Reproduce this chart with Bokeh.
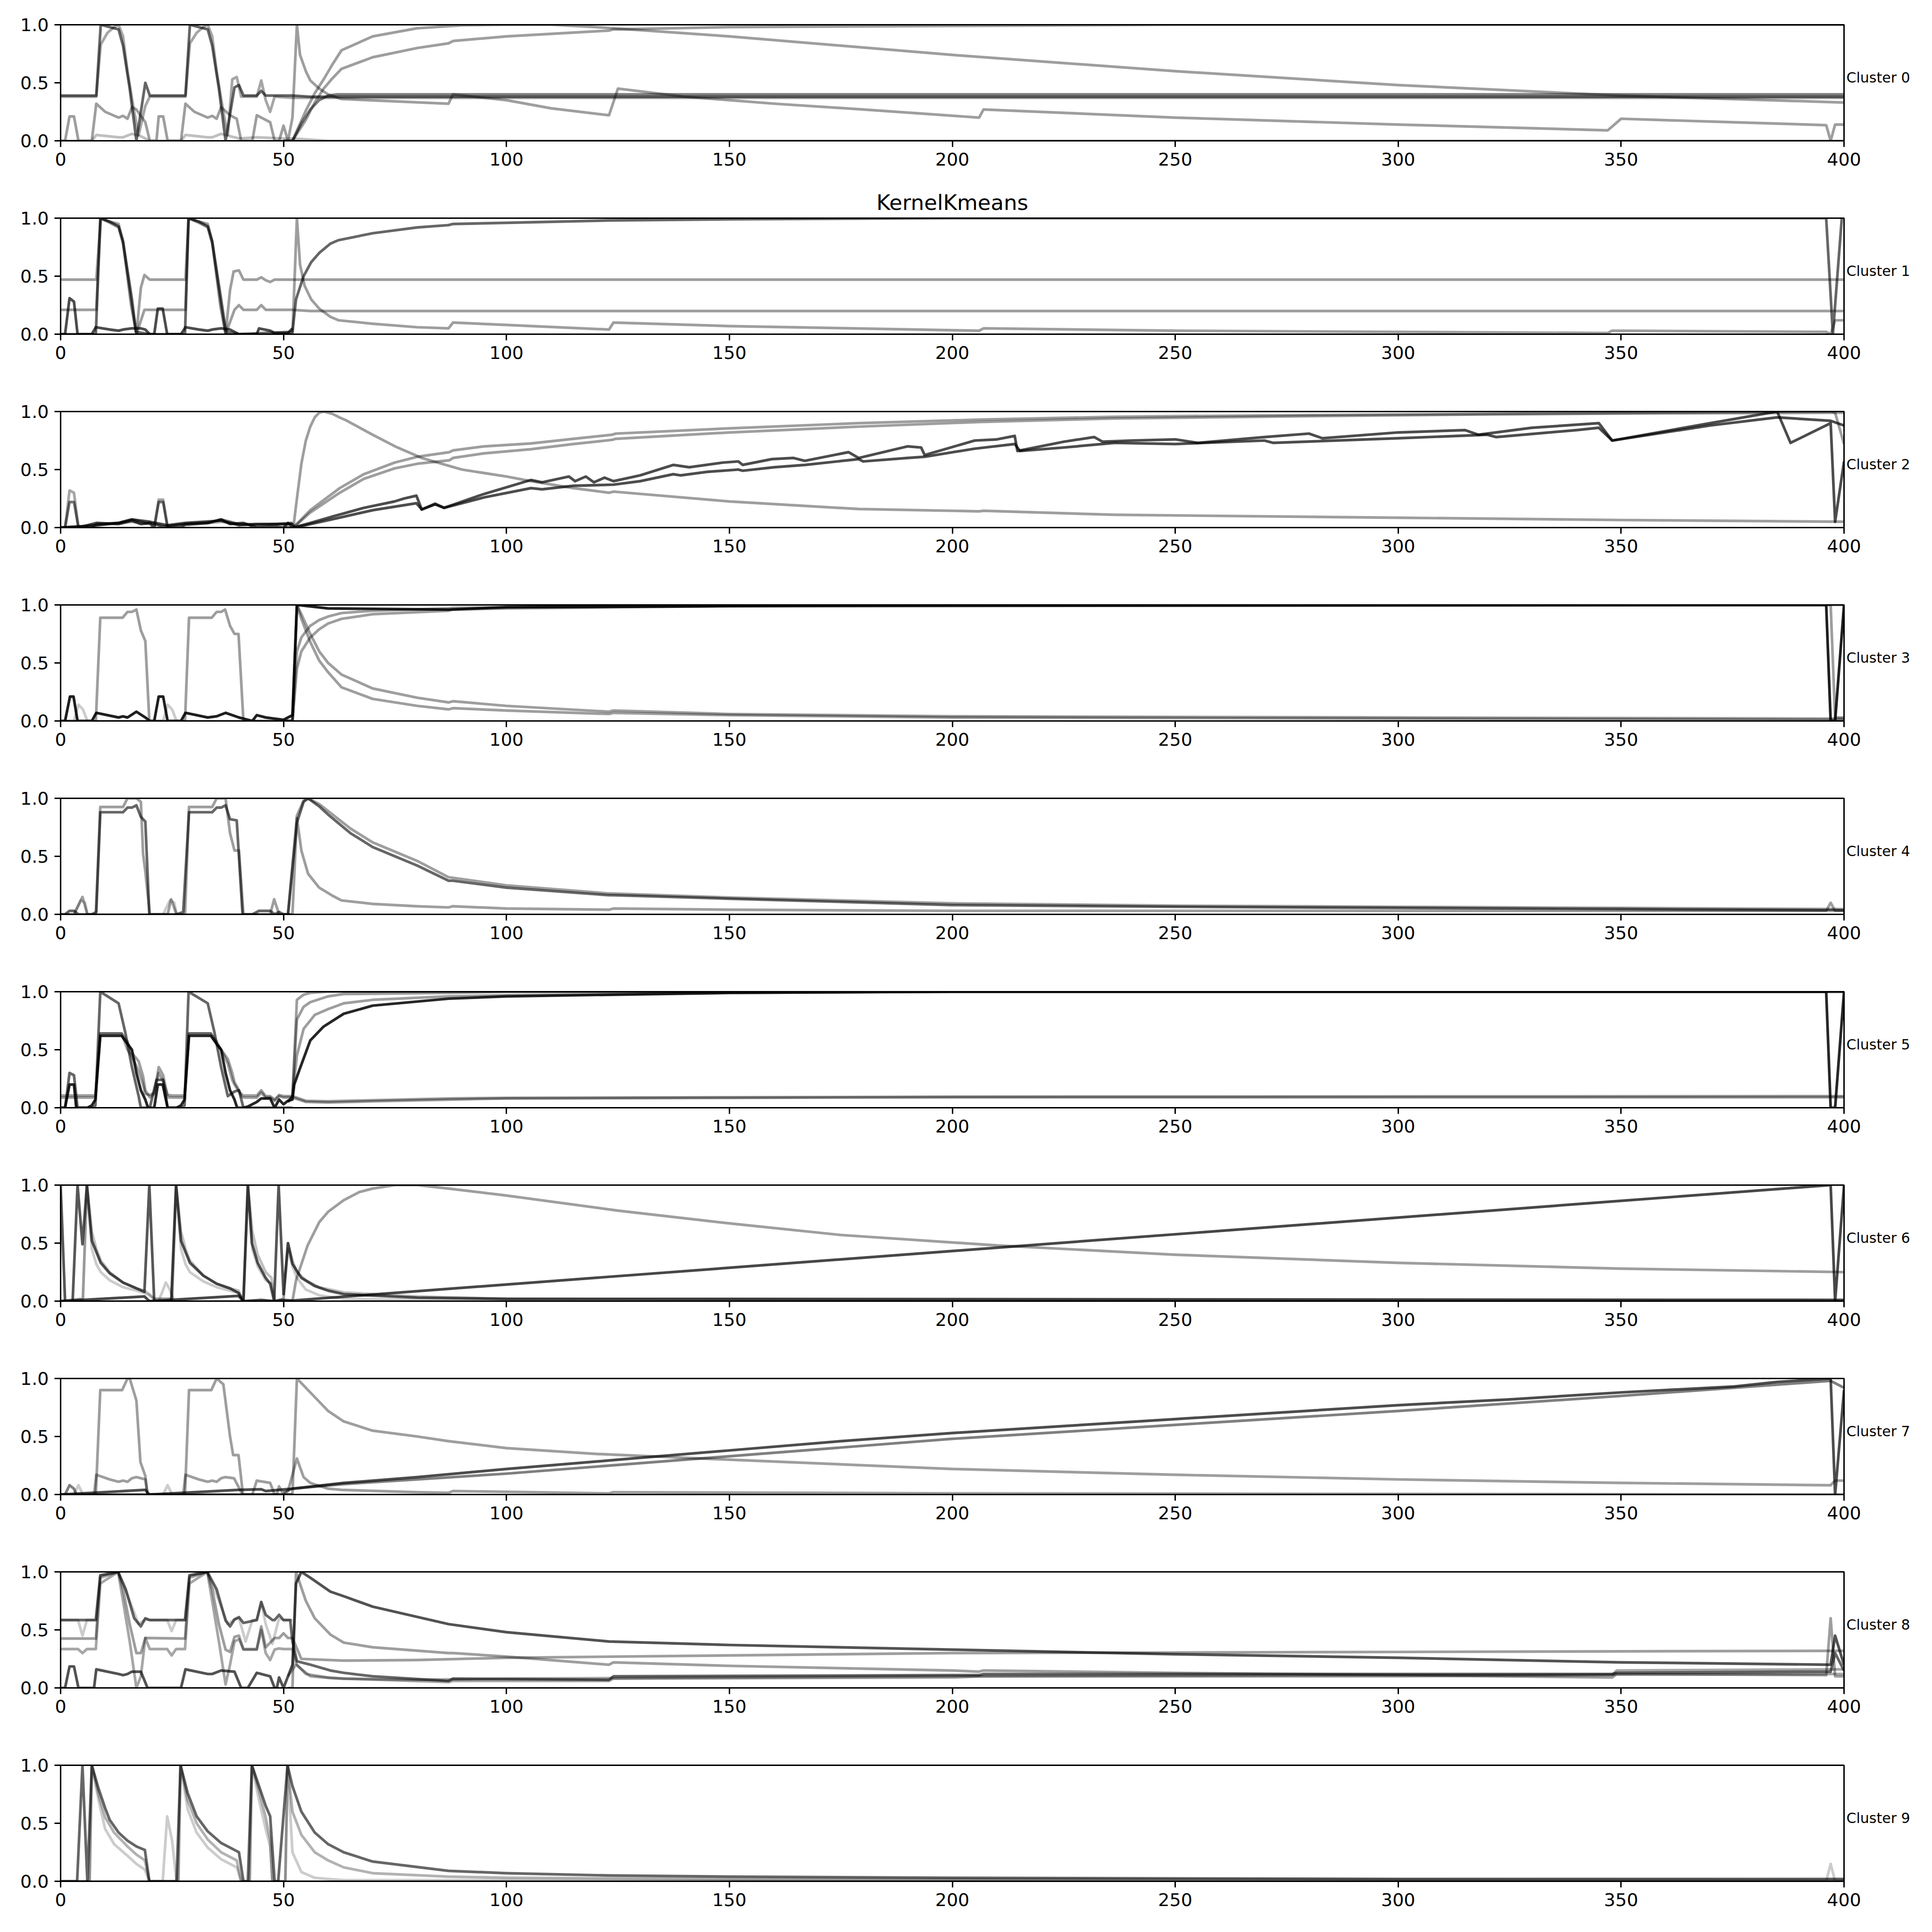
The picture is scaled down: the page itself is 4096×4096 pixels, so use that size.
from bokeh.plotting import figure
from bokeh.models import Range1d, FixedTicker, PrintfTickFormatter, LinearAxis
from bokeh.layouts import column
from bokeh.embed import file_html
from bokeh.resources import INLINE

TITLE = "KernelKmeans"
CLUSTER_NAMES = ["Cluster %d" % i for i in range(10)]
X_TICKS = [0, 50, 100, 150, 200, 250, 300, 350, 400]
Y_TICKS = [0.0, 0.5, 1.0]

# ---------------- data: each line is a list of (x, y) points ----------------
cluster0_lines = [
    [(0,0.39),(8,0.39),(9,1.0),(13,0.96),(14,0.82),(15.5,0.45),(17,0.0),(19,0.5),(20,0.39),(28,0.39),(29,1.0),(33,0.96),(34,0.82),(35.5,0.45),(37,0.0),(39,0.46),(40,0.48),(41,0.39),(44,0.39),(45,0.43),(46,0.39),(52,0.39),(56,0.38),(400,0.38)],
    [(0,0.38),(8,0.38),(9,0.83),(10.5,0.93),(12,0.98),(13,1.0),(14,0.9),(15,0.6),(16.5,0.25),(17.5,0.05),(19,0.3),(20,0.38),(28,0.38),(29,0.84),(30.5,0.93),(32,0.98),(33,1.0),(34,0.9),(35,0.6),(36.5,0.25),(37.5,0.05),(38.5,0.53),(39.5,0.55),(40.5,0.38),(44,0.38),(45,0.52),(46,0.35),(47,0.25),(48,0.38),(52,0.37),(400,0.37)],
    [(0,0),(1,0),(2,0.21),(3,0.21),(4,0),(7,0),(8,0.32),(10,0.25),(13,0.2),(14,0.215),(15,0.19),(16,0.29),(17,0.27),(19,0.16),(20,0),(21.5,0),(22,0.21),(23,0.21),(24,0),(27,0),(28,0.32),(30,0.25),(33,0.2),(34,0.215),(35,0.19),(36,0.29),(38,0.22),(39.5,0.19),(40.5,0),(43,0),(44,0.22),(47,0.16),(48,0),(49,0),(50,0.13),(51,0),(52,0.2),(53,1.0),(53.7,0.74),(55,0.6),(56,0.52),(58,0.45),(60,0.4),(63,0.36),(75,0.34),(87,0.32),(88,0.4),(100,0.35),(110,0.28),(123,0.22),(125,0.45),(140,0.38),(160,0.32),(180,0.27),(206,0.2),(207,0.27),(250,0.2),(300,0.14),(347,0.09),(350,0.19),(375,0.16),(396,0.135),(397,0.0),(398,0.14),(400,0.14)],
    [(0,0.0),(7,0.0),(8,0.05),(13,0.03),(14,0.03),(16,0.06),(18,0.04),(20,0.0),(27,0.0),(28,0.05),(33,0.03),(34,0.03),(36,0.06),(38,0.04),(40,0.02),(44,0.03),(50,0.02),(52,0.02),(60,0.0),(400,0.0)],
    [(50,0.0),(52,0.0),(55,0.26),(57,0.41),(59,0.53),(61,0.66),(63,0.78),(70,0.9),(80,0.97),(90,0.995),(100,1.0),(110,1.0),(120,0.98),(150,0.9),(200,0.74),(250,0.6),(300,0.48),(350,0.39),(400,0.33)],
    [(50,0.0),(52,0.0),(55,0.18),(57,0.33),(59,0.45),(61,0.54),(63,0.62),(70,0.72),(80,0.8),(87,0.84),(88,0.86),(100,0.9),(123,0.95),(124,0.96),(150,0.98),(200,0.99),(250,1.0),(400,1.0)],
    [(50,0.0),(52,0.0),(54,0.15),(56,0.27),(58,0.35),(60,0.39),(62,0.4),(400,0.4)],
]
cluster0_alpha = [0.6, 0.35, 0.38, 0.25, 0.38, 0.38, 0.5]

cluster1_lines = [
    [(0,0.47),(8,0.47),(9,1.0),(11,0.97),(13,0.95),(14,0.8),(15.8,0.25),(17,0.0),(18,0.4),(18.8,0.51),(20,0.47),(28,0.47),(28.7,1.0),(31,0.97),(33,0.95),(34,0.8),(35.8,0.25),(37,0.0),(38,0.38),(38.8,0.54),(40,0.55),(41,0.47),(44,0.47),(45,0.49),(46,0.465),(47,0.45),(48,0.47),(400,0.47)],
    [(0,0.21),(8,0.21),(9,1.0),(11,0.96),(13,0.92),(14,0.78),(15.8,0.3),(17,0.0),(18.8,0.21),(28,0.21),(28.7,1.0),(31,0.96),(33,0.92),(34,0.78),(35.8,0.3),(37,0.0),(39,0.21),(40,0.25),(41,0.21),(44,0.21),(45,0.25),(46,0.21),(52,0.21),(56,0.2),(400,0.2)],
    [(0,0),(7.9,0),(8.9,1.0),(11,0.97),(13,0.93),(14,0.8),(15,0.55),(16,0.3),(16.9,0.02),(20,0),(27.9,0),(28.7,1.0),(31,0.97),(33,0.93),(34,0.8),(35,0.55),(36,0.3),(37.1,0.02),(40,0),(52,0.02),(52.8,0.3),(54.5,0.5),(56.2,0.62),(58,0.7),(60.5,0.78),(62.3,0.81),(70,0.87),(80,0.92),(87,0.94),(88,0.95),(100,0.96),(123,0.98),(150,0.99),(200,1.0),(396,1.0),(397.5,0.0),(399.5,1.0)],
    [(0,0),(1,0),(2,0.31),(3,0.28),(3.8,0),(7,0),(7.9,0.06),(11,0.04),(13,0.03),(14,0.04),(16,0.05),(18,0.05),(19,0.04),(20,0),(21,0),(21.8,0.22),(22.9,0.22),(23.9,0),(27,0),(28,0.06),(31,0.04),(33,0.03),(34,0.04),(36,0.05),(38,0.04),(40,0),(44,0),(44.5,0.05),(47,0.03),(48,0.01),(51,0.01),(52,0.05)],
    [(50,0),(52,0),(53,1.0),(53.7,0.6),(54.7,0.42),(56.2,0.3),(58,0.22),(60.5,0.15),(62.3,0.12),(70,0.09),(80,0.06),(87,0.05),(88,0.1),(100,0.08),(123,0.04),(124,0.1),(150,0.07),(206,0.03),(207,0.05),(250,0.03),(347,0.01),(348,0.03),(396,0.02),(397,0.0),(398,0.12),(400,0.12)],
]
cluster1_alpha = [0.38, 0.38, 0.6, 0.7, 0.38]

cluster2_lines = [
    [(0,0),(1,0),(2,0.32),(3,0.3),(4,0),(8,0.02),(16,0.05),(20,0.03),(21,0),(22,0.24),(23,0.24),(24,0),(28,0.02),(36,0.05),(40,0.03),(52,0.03)],
    [(0,0),(1,0),(2,0.22),(3,0.22),(4,0),(7,0),(8,0.03),(13,0.04),(16,0.07),(19,0.04),(20,0.04),(21,0),(22,0.22),(23,0.22),(24,0),(27,0),(28,0.03),(33,0.04),(36,0.07),(39,0.04),(40,0.03),(44,0.02),(48,0.03),(52,0.04)],
    [(0,0),(5,0.01),(8,0.04),(13,0.03),(16,0.06),(18,0.03),(20,0.04),(23,0.01),(28,0.03),(33,0.04),(36,0.07),(38,0.03),(41,0.04),(44,0.0),(48,0.01),(50,0.0),(51,0.04),(52.2,0.0),(56,0.04),(61.4,0.1),(68,0.17),(74.9,0.225),(77,0.25),(79.8,0.275),(81,0.156),(84,0.206),(86,0.17),(95,0.29),(105.5,0.41),(108,0.39),(114,0.44),(115.4,0.4),(117.8,0.44),(119.6,0.39),(122,0.43),(124,0.4),(130,0.45),(137.4,0.54),(141,0.52),(148.5,0.56),(152,0.57),(153,0.54),(159.5,0.59),(164.4,0.6),(166.9,0.575),(176.7,0.65),(179,0.6),(190,0.7),(193,0.69),(193.8,0.625),(205,0.75),(210,0.76),(214,0.79),(214.6,0.66),(225,0.74),(231.8,0.78),(233.7,0.74),(240,0.75),(250,0.76),(255,0.73),(270,0.78),(280,0.81),(283,0.77),(300,0.82),(315,0.84),(318,0.8),(330,0.86),(345,0.9),(348,0.75),(370,0.9),(385,1.0),(388,0.73),(397,0.9),(398,0.05),(400,0.57)],
    [(0,0),(8,0.02),(13,0.04),(16,0.07),(20,0.05),(24,0.02),(28,0.04),(36,0.06),(40,0.02),(44,0.03),(52,0.03),(52.5,0.0),(61.4,0.075),(70,0.15),(79.8,0.21),(81,0.156),(84,0.2),(86,0.17),(95,0.26),(105.5,0.34),(108,0.33),(115,0.36),(124,0.37),(130,0.4),(137.4,0.46),(139,0.45),(145,0.48),(152,0.5),(153,0.49),(160,0.52),(167,0.54),(179,0.59),(180,0.57),(190,0.6),(193.8,0.61),(205,0.68),(214,0.72),(215.2,0.66),(225,0.69),(236.5,0.73),(250,0.72),(270,0.75),(272,0.73),(300,0.77),(320,0.8),(322,0.78),(340,0.84),(345,0.86),(348,0.75),(370,0.88),(385,0.95),(397,0.92),(400,0.88)],
    [(50,0),(52.2,0.0),(53,0.25),(54,0.55),(55,0.75),(56,0.87),(57,0.95),(58,0.99),(59,1.0),(61,0.98),(62.5,0.95),(64,0.925),(70,0.8),(75,0.7),(81,0.6),(90,0.5),(100,0.44),(105.5,0.4),(115,0.34),(123,0.3),(124,0.31),(150,0.225),(179,0.16),(206,0.14),(207,0.145),(236.5,0.11),(300,0.085),(350,0.065),(400,0.05)],
    [(50,0),(52.2,0.0),(56,0.15),(62.6,0.34),(68,0.46),(74.9,0.56),(80,0.61),(87.2,0.65),(88,0.665),(95,0.7),(105.5,0.725),(115,0.765),(123.7,0.8),(124.5,0.81),(150,0.855),(179,0.9),(206,0.93),(236.5,0.955),(280,0.97),(320,0.98),(360,0.99),(397,1.0),(398,0.99),(400,0.72)],
    [(50,0),(52.2,0.0),(56,0.13),(62.6,0.3),(68,0.42),(74.9,0.51),(80,0.55),(87.2,0.58),(88,0.6),(95,0.64),(105.5,0.675),(115,0.72),(123.7,0.756),(124.5,0.765),(150,0.82),(179,0.87),(206,0.91),(236.5,0.94),(280,0.96),(320,0.975),(360,0.985),(400,0.99)],
]
cluster2_alpha = [0.35, 0.55, 0.7, 0.7, 0.38, 0.38, 0.38]

cluster3_lines = [
    [(0,0),(7.9,0),(8.9,0.89),(13.9,0.89),(15,0.94),(16,0.94),(17,0.96),(18,0.78),(19,0.69),(19.9,0),(27.9,0),(28.8,0.89),(33.9,0.89),(35,0.94),(36,0.94),(36.9,0.96),(38,0.82),(39,0.75),(39.9,0.75),(41,0),(52,0)],
    [(0,0),(3,0),(4,0.14),(5,0.1),(6,0),(23,0),(24,0.14),(25,0.1),(26,0),(52,0)],
    [(50,0),(52,0),(53,1.0),(54,0.92),(56,0.75),(58,0.6),(60,0.5),(63,0.4),(70,0.28),(80,0.2),(87,0.16),(88,0.17),(100,0.13),(123,0.08),(124,0.09),(150,0.06),(200,0.04),(300,0.03),(400,0.02)],
    [(50,0),(52,0),(53,1.0),(54,0.88),(56,0.68),(58,0.52),(60,0.42),(63,0.29),(70,0.19),(80,0.13),(87,0.1),(88,0.11),(100,0.09),(123,0.06),(124,0.07),(150,0.05),(200,0.03),(300,0.02),(400,0.01)],
    [(50,0),(52,0),(53,0.45),(54,0.6),(56,0.72),(58,0.79),(60,0.84),(63,0.88),(70,0.92),(87,0.95),(88,0.96),(100,0.97),(150,0.99),(200,1.0),(400,1.0)],
    [(50,0),(52,0),(53,0.6),(54,0.72),(56,0.82),(58,0.87),(60,0.9),(63,0.93),(70,0.95),(87,0.97),(88,0.975),(100,0.98),(150,0.99),(200,1.0),(397,1.0),(398,0.03),(400,0.03)],
    [(0,0),(1,0),(2.1,0.21),(2.9,0.21),(3.8,0),(7,0),(8,0.07),(13,0.03),(14,0.04),(15,0.03),(17,0.08),(19,0.03),(20,0),(21,0),(22,0.21),(23,0.21),(24,0),(27,0),(28,0.07),(33,0.03),(35,0.04),(37,0.07),(40,0.03),(43,0),(44,0.05),(46,0.03),(48,0.02),(50,0.01),(51,0.03),(52,0.05),(53,1.0),(60,0.97),(87,0.96),(100,0.98),(150,0.99),(396,1.0),(397,0.0),(398,0.0),(400,1.0)],
]
cluster3_alpha = [0.38, 0.2, 0.38, 0.38, 0.38, 0.38, 0.88]

cluster4_lines = [
    [(0,0),(3,0),(4.9,0.15),(6,0),(7.9,0),(8.9,0.925),(14,0.925),(15,1.0),(17,1.0),(18,0.97),(18.5,0.52),(19,0.37),(20,0),(24,0),(24.8,0.13),(26,0),(27.9,0),(28.8,0.925),(34,0.925),(35,1.0),(37,1.0),(38,0.7),(39,0.55),(40,0.55),(41,0),(47,0),(47.9,0.13),(49,0),(51,0),(53,0.85),(54.5,0.98),(55.5,1.0),(58,0.95),(60,0.89),(65,0.74),(70,0.62),(80,0.46),(87,0.32),(100,0.25),(123,0.18),(150,0.145),(200,0.095),(250,0.075),(300,0.065),(350,0.055),(400,0.045)],
    [(0,0),(3,0),(4.5,0.12),(5.5,0.1),(6,0),(23,0),(24.5,0.12),(25.5,0.1),(26,0),(52,0)],
    [(50,0),(52,0),(53,0.83),(54,0.55),(55.5,0.35),(58,0.23),(61,0.16),(63,0.12),(70,0.09),(80,0.07),(87,0.06),(88,0.07),(100,0.05),(123,0.04),(124,0.05),(150,0.04),(200,0.03),(300,0.03),(396,0.03),(397,0.1),(398,0.03),(400,0.03)],
    [(0,0),(1,0),(2,0.03),(3,0.03),(4,0),(7,0),(8,0.02),(8.9,0.88),(14,0.88),(15,0.92),(16,0.92),(17,0.94),(18,0.84),(19,0.8),(19.9,0),(26,0),(27.5,0.02),(28.8,0.88),(34,0.88),(35,0.92),(36,0.92),(37,0.94),(38,0.82),(39.5,0.81),(40.8,0),(43,0),(44.5,0.03),(47,0.03),(48,0),(49,0.02),(50,0),(51,0),(53,0.79),(54.5,0.97),(55.5,1.0),(58,0.93),(60,0.86),(65,0.7),(70,0.58),(80,0.42),(87,0.29),(88,0.29),(100,0.23),(123,0.165),(124,0.165),(150,0.135),(200,0.08),(250,0.065),(300,0.055),(350,0.045),(400,0.035)],
]
cluster4_alpha = [0.38, 0.2, 0.38, 0.6]

cluster5_lines = [
    [(0,0.105),(7.8,0.105),(8.9,0.64),(13.7,0.64),(15,0.5),(16,0.44),(17.5,0.32),(18.5,0.2),(19,0.12),(20,0.11),(21,0.13),(22,0.3),(23,0.23),(24,0.11),(25,0.105),(27.8,0.105),(28.8,0.64),(33.7,0.64),(35,0.55),(36,0.5),(37.5,0.38),(38.5,0.24),(39,0.2),(40,0.14),(40.5,0.12),(41,0.105),(44,0.105),(45,0.15),(46,0.1),(47,0.1),(48,0.07),(49,0.11),(50,0.1),(52,0.1),(55,0.06),(60,0.055),(70,0.065),(87,0.08),(100,0.085),(150,0.09),(200,0.095),(400,0.1)],
    [(0,0.088),(7.8,0.088),(8.9,0.64),(13.7,0.64),(15,0.57),(16,0.47),(17.5,0.4),(18.5,0.27),(19,0.15),(20,0.09),(21,0.12),(22,0.35),(23,0.28),(24,0.09),(25,0.088),(27.8,0.088),(28.8,0.64),(33.7,0.64),(35,0.57),(36,0.5),(37.5,0.42),(38.5,0.3),(39,0.22),(40,0.15),(40.5,0.1),(41,0.088),(44,0.088),(45,0.13),(46,0.088),(47,0.088),(48,0.06),(49,0.1),(50,0.088),(52,0.088),(55,0.05),(60,0.045),(70,0.055),(87,0.07),(100,0.08),(150,0.085),(200,0.09),(400,0.09)],
    [(51,0.05),(52,0.1),(53,0.93),(54.5,0.975),(56,0.99),(60,1.0),(400,1.0)],
    [(51,0.05),(52,0.1),(53,0.76),(54.5,0.87),(56,0.91),(60,0.96),(63.5,0.98),(87,0.99),(100,1.0),(400,1.0)],
    [(51,0.05),(52,0.1),(53,0.45),(54.5,0.68),(57,0.8),(60,0.85),(63.5,0.9),(70,0.93),(87,0.96),(100,0.97),(150,0.99),(200,1.0),(400,1.0)],
    [(0,0),(1,0),(2,0.3),(3,0.28),(3.8,0),(7,0),(7.8,0.02),(8.9,1.0),(13,0.9),(14.5,0.65),(16,0.35),(17.5,0.1),(18,0),(20,0),(21.5,0.24),(23,0.24),(24,0),(27,0),(27.8,0.02),(28.7,1.0),(33,0.9),(34.5,0.65),(36,0.35),(37.5,0.1),(39,0.14),(40,0.15),(41,0),(52,0)],
    [(0,0),(1,0),(2,0.2),(3,0.2),(3.5,0),(6,0),(7,0.02),(7.8,0.07),(8.9,0.62),(13.7,0.62),(15,0.55),(16,0.5),(17,0.3),(18,0.15),(19,0.07),(19.6,0.0),(21,0),(21.8,0.2),(22.9,0.2),(24,0),(26,0),(27,0.02),(27.8,0.07),(28.8,0.62),(33.7,0.62),(35,0.55),(36,0.5),(37,0.3),(38,0.15),(39,0.07),(39.6,0.0),(41,0.0),(42,0.01),(44,0.05),(45,0.08),(46,0.08),(47,0.08),(48,0.0),(49,0.07),(50,0.03),(51,0.06),(52,0.07),(52.4,0.2),(53.6,0.33),(56,0.58),(59,0.7),(63.5,0.81),(70,0.88),(87,0.94),(100,0.96),(150,0.99),(200,1.0),(396,1.0),(397,0.0),(398,0.0),(400,1.0)],
]
cluster5_alpha = [0.38, 0.38, 0.38, 0.38, 0.38, 0.6, 0.85]

cluster6_lines = [
    [(0,0),(5,0.02),(5.9,1.0),(7,0.45),(8,0.32),(9,0.25),(11,0.18),(14,0.12),(17,0.09),(18.8,0.07),(19.9,0.05),(21,0.02),(25,0.02),(25.9,1.0),(27,0.45),(28,0.32),(29,0.25),(32,0.17),(35,0.12),(38,0.09),(39.9,0.07),(41,0.0),(42.0,1.0),(43,0.45),(44.2,0.3),(46,0.18),(47.3,0.15),(48,0.0),(50,0.02),(51,0.45),(52,0.3),(53,0.2),(55,0.1),(58,0.05),(63.5,0.02),(80,0.01),(100,0.01),(400,0.0)],
    [(0,0),(5,0.02),(5.9,1.0),(7,0.6),(8,0.45),(9,0.35),(11,0.25),(14,0.16),(17,0.11),(18.8,0.09),(19.9,0.06),(21,0.02),(25,0.02),(25.9,1.0),(27,0.6),(28,0.45),(29,0.35),(32,0.22),(35,0.15),(38,0.11),(39.9,0.09),(41,0.0),(42.0,1.0),(43,0.6),(44.2,0.4),(46,0.25),(47.3,0.2),(48,0.0),(50,0.02),(51,0.5),(52,0.35),(53,0.25),(55,0.18),(58,0.12),(63.5,0.075),(80,0.04),(100,0.02),(400,0.01)],
    [(0,0),(22,0),(23.6,0.16),(24.5,0.1),(25.5,0),(52,0)],
    [(0,0),(18.8,0.04),(19.9,0),(39.9,0.045),(41,0),(45,0.01),(48,0.0),(50,0.01),(52,0.005),(397,1.0),(398,0.0),(400,1.0)],
    [(50,0),(52,0),(52.8,0.18),(55.4,0.48),(58,0.68),(60,0.77),(63.5,0.87),(67,0.94),(70,0.97),(75,1.0),(80,1.0),(87,0.97),(100,0.91),(125,0.78),(150,0.67),(175,0.57),(210,0.48),(250,0.4),(300,0.33),(350,0.28),(400,0.25)],
    [(0,1.0),(1.0,0),(2.7,0),(3.8,1.0),(4.9,0.49),(5.9,1.0),(7.0,0.52),(9,0.33),(11,0.24),(14,0.16),(17,0.11),(18.8,0.08),(19.9,1.0),(21.0,0.0),(24.8,0.0),(25.9,1.0),(27.0,0.52),(29,0.33),(32,0.22),(35,0.15),(38,0.11),(39.9,0.07),(41.0,0.0),(42.0,1.0),(42.9,0.5),(44.2,0.33),(46,0.2),(47.0,0.15),(47.9,0.0),(48.9,1.0),(50.0,0.06),(51.0,0.5),(52,0.32),(54,0.2),(57,0.13),(60,0.09),(63.5,0.06),(80,0.03),(100,0.02),(400,0.01)],
]
cluster6_alpha = [0.2, 0.25, 0.2, 0.72, 0.38, 0.66]

cluster7_lines = [
    [(0,0),(7.9,0),(8.9,0.9),(13.8,0.9),(15,1.0),(15.5,1.0),(17,0.81),(17.9,0.28),(19,0.16),(19.5,0),(27.9,0),(28.8,0.9),(33.8,0.9),(35,1.0),(36.5,0.95),(38,0.5),(38.7,0.34),(39.9,0.34),(40.9,0),(52,0),(53,1.0),(55.5,0.9),(60,0.72),(63.5,0.63),(70,0.55),(80,0.5),(87,0.46),(100,0.4),(120,0.35),(150,0.3),(200,0.22),(250,0.17),(300,0.13),(350,0.1),(397,0.08),(398,0.12),(400,0.12)],
    [(0,0),(7.5,0),(8,0.17),(11,0.13),(13,0.11),(14,0.12),(15,0.11),(16,0.14),(17,0.15),(19,0.13),(19.5,0),(27.5,0),(28,0.17),(31,0.13),(33,0.11),(34,0.12),(35,0.11),(36,0.14),(37,0.15),(38.9,0.14),(40.8,0),(43,0),(44,0.12),(47,0.1),(48,0),(48.5,0),(49,0.07),(50,0),(51,0.03),(53,0.31),(54.5,0.15),(56,0.1),(60,0.05),(63,0.04),(80,0.02),(87,0.015),(88,0.03),(123,0.01),(124,0.02),(200,0.01),(400,0.0)],
    [(0,0),(3,0),(4,0.08),(5,0),(23,0),(24,0.08),(25,0),(52,0)],
    [(0,0),(1,0),(2,0.08),(3,0.05),(3.5,0),(52,0)],
    [(50,0.02),(52,0.05),(63.5,0.09),(80,0.13),(100,0.18),(150,0.33),(200,0.48),(250,0.6),(300,0.72),(350,0.85),(397,0.98),(400,0.92)],
    [(0,0),(19,0.04),(19.9,0.0),(40,0.04),(45,0.045),(46,0.03),(52,0.05),(63.5,0.1),(80,0.15),(100,0.22),(125,0.3),(150,0.38),(175,0.46),(200,0.53),(225,0.59),(250,0.65),(275,0.71),(300,0.77),(325,0.82),(350,0.88),(375,0.93),(385,0.97),(397,1.0),(398,0.0),(400,0.9)],
]
cluster7_alpha = [0.38, 0.38, 0.2, 0.5, 0.5, 0.7]

cluster8_lines = [
    [(0,0.585),(3.9,0.585),(4.9,0.45),(5.9,0.585),(7.9,0.585),(8.9,0.97),(12.9,1.0),(14,0.9),(16,0.7),(17.5,0.55),(19,0.59),(20,0.585),(23.9,0.585),(24.9,0.49),(25.9,0.585),(27.9,0.585),(28.9,0.97),(32.9,1.0),(34,0.9),(36,0.7),(37.5,0.55),(39,0.59),(40,0.6),(41.5,0.4),(43,0.585),(44,0.585),(45,0.74),(46,0.55),(47.5,0.38),(49,0.6),(50,0.585),(52,0.585)],
    [(0,0.425),(7.9,0.425),(8.9,0.95),(12.9,1.0),(14,0.85),(15.5,0.55),(17,0.3),(18,0.3),(19,0.43),(27.9,0.425),(28.9,0.95),(32.9,1.0),(34,0.85),(35.5,0.55),(37,0.33),(38,0.31),(39,0.44),(40,0.45),(41,0.33),(44,0.33),(45,0.53),(46,0.35),(48,0.43),(49,0.43),(50,0.47),(51,0.43),(52,0.43),(54,0.25),(63.5,0.235),(80,0.24),(100,0.26),(150,0.28),(200,0.3),(300,0.31),(400,0.32)],
    [(0,0.335),(3.9,0.335),(4.9,0.3),(5.9,0.335),(7.9,0.335),(8.9,0.9),(12.9,1.0),(14,0.75),(15.5,0.4),(17,0.0),(18,0.1),(19,0.43),(20,0.335),(23.9,0.335),(24.9,0.28),(25.9,0.335),(27.9,0.335),(28.9,0.9),(32.9,1.0),(34,0.75),(35.5,0.4),(37,0.03),(38,0.2),(39,0.4),(40,0.42),(41,0.335),(44,0.335),(45,0.5),(46,0.3),(47,0.24),(48,0.33),(49,0.34),(50,0.335),(52,0.335),(53,0.2),(55,0.12),(60,0.09),(63.5,0.08),(80,0.07),(100,0.08),(150,0.09),(200,0.1),(300,0.11),(400,0.12)],
    [(51,0),(52,0),(52.8,1.0),(55,0.75),(57,0.6),(60.5,0.46),(63.5,0.39),(70,0.35),(87,0.3),(88,0.3),(100,0.27),(123,0.2),(124,0.22),(150,0.19),(200,0.15),(206,0.14),(207,0.15),(250,0.13),(300,0.11),(348,0.09),(349,0.12),(396,0.11),(397,0.6),(398,0.1),(400,0.1)],
    [(51,0.1),(52.8,0.2),(56,0.1),(60.5,0.085),(63.5,0.08),(87,0.05),(88,0.06),(123,0.06),(124,0.08),(200,0.09),(207,0.1),(300,0.1),(348,0.11),(349,0.15),(400,0.16)],
    [(0,0.585),(7.9,0.585),(8.9,0.97),(12.9,1.0),(14.6,0.85),(16.5,0.6),(18,0.53),(19,0.6),(20,0.585),(27.9,0.585),(28.9,0.97),(32.9,1.0),(35,0.85),(37,0.58),(38,0.53),(39,0.59),(40,0.61),(41,0.56),(44,0.585),(45,0.74),(46,0.63),(47.5,0.585),(48,0.585),(49,0.63),(50,0.585),(51.5,0.585),(52,0.4),(53,0.23),(56,0.2),(60.5,0.15),(63.5,0.13),(70,0.1),(87,0.06),(88,0.08),(123,0.07),(124,0.1),(200,0.11),(206,0.11),(207,0.12),(300,0.12),(348,0.12),(349,0.13),(397,0.14),(398,0.3),(400,0.15)],
    [(0,0),(1,0),(2,0.185),(3,0.185),(4,0),(7.5,0),(8,0.16),(13,0.12),(14,0.11),(15,0.12),(16,0.14),(18,0.14),(19.5,0),(27,0),(28,0.16),(33,0.12),(34,0.12),(36,0.15),(39,0.14),(40.5,0),(42,0),(44,0.13),(47,0.1),(48,0),(48.5,0),(49,0.09),(50,0),(51,0.1),(52,0.2),(52.8,0.9),(54,1.0),(56,0.95),(60.5,0.83),(63.5,0.79),(70,0.7),(87,0.55),(100,0.48),(123,0.4),(150,0.37),(200,0.33),(250,0.29),(300,0.26),(350,0.22),(397,0.2),(398,0.45),(400,0.2)],
]
cluster8_alpha = [0.2, 0.38, 0.35, 0.38, 0.35, 0.6, 0.68]

cluster9_lines = [
    [(0,0),(6.5,0),(7.0,1.0),(8.5,0.75),(10,0.55),(12,0.42),(15,0.3),(17,0.23),(18.9,0.18),(19.9,0.0),(26.4,0),(26.9,1.0),(28.5,0.7),(30.5,0.5),(33,0.36),(36,0.25),(39.5,0.18),(40.5,0.0),(42.4,0),(42.9,1.0),(44.5,0.78),(46,0.55),(47,0.36),(47.5,0.0),(50.4,0),(50.9,1.0),(52,0.6),(54,0.4),(57,0.25),(60,0.18),(63.5,0.12),(70,0.07),(87,0.04),(100,0.03),(150,0.02),(400,0.01)],
    [(0,0),(6.5,0),(7.0,1.0),(8.5,0.7),(10,0.45),(12,0.32),(15,0.22),(17,0.15),(18.9,0.1),(19.9,0.0),(26.4,0),(26.9,1.0),(28.5,0.62),(30.5,0.42),(33,0.29),(36,0.19),(39.5,0.12),(40.5,0.0),(42.4,0),(42.9,1.0),(44.5,0.7),(46,0.45),(47,0.3),(47.5,0.0),(50.4,0),(50.9,1.0),(52,0.25),(54,0.08),(57,0.03),(60,0.02),(63.5,0.01),(70,0.01),(400,0.0)],
    [(0,0),(22.9,0),(23.9,0.56),(25,0.35),(26,0),(52,0),(396,0),(397,0.15),(398,0.0),(400,0.0)],
    [(0,0),(3.7,0),(4.9,1.0),(6.0,0),(7.0,1.0),(8.5,0.8),(10,0.63),(11,0.53),(13,0.42),(15,0.35),(17,0.3),(18.9,0.27),(19.9,0),(26,0),(26.9,1.0),(28.5,0.76),(30.5,0.56),(33,0.43),(36,0.33),(39.5,0.26),(40,0.25),(41,0),(42,0),(42.9,1.0),(44.5,0.82),(46,0.65),(47,0.56),(48,0),(48.8,0),(50.9,1.0),(52,0.82),(54,0.6),(57,0.42),(60,0.32),(63.5,0.25),(70,0.17),(87,0.09),(100,0.07),(123,0.05),(150,0.04),(200,0.03),(300,0.02),(400,0.02)],
]
cluster9_alpha = [0.3, 0.2, 0.2, 0.6]

ALL_LINES = [cluster0_lines, cluster1_lines, cluster2_lines, cluster3_lines, cluster4_lines,
             cluster5_lines, cluster6_lines, cluster7_lines, cluster8_lines, cluster9_lines]
ALL_ALPHA = [cluster0_alpha, cluster1_alpha, cluster2_alpha, cluster3_alpha, cluster4_alpha,
             cluster5_alpha, cluster6_alpha, cluster7_alpha, cluster8_alpha, cluster9_alpha]

# ---------------- style / layout (pixels) ----------------
FONT = "DejaVu Sans"
W = 4096
FRAME_L, FRAME_R = 128, 3909
FRAME_H = 246
BORDER_R = W - FRAME_R
LW = 5.7
LABEL_Y = 0.545          # vertical centre of the "Cluster k" text

# (figure height, top border) for each subplot; frames start every 410 px
SPEC = [(382, 52), (438, 80)] + [(410, 52)] * 7 + [(406, 52)]


def make_panel(k):
    h, top = SPEC[k]
    bottom = h - top - FRAME_H
    p = figure(width=W, height=h, x_range=Range1d(0, 400), y_range=Range1d(0, 1),
               output_backend="svg", toolbar_location=None,
               min_border_left=FRAME_L, min_border_right=BORDER_R,
               min_border_top=top, min_border_bottom=bottom)
    p.xgrid.visible = False
    p.ygrid.visible = False
    p.outline_line_color = "black"
    p.outline_line_width = 3
    p.outline_line_alpha = 1.0
    p.background_fill_color = "white"
    p.border_fill_color = "white"
    p.xaxis.ticker = FixedTicker(ticks=X_TICKS)
    p.yaxis.ticker = FixedTicker(ticks=Y_TICKS)
    p.yaxis.formatter = PrintfTickFormatter(format="%.1f")
    for ax in (p.xaxis, p.yaxis):
        ax.major_label_text_font = FONT
        ax.major_label_text_font_size = "38px"
        ax.major_label_text_color = "black"
        ax.axis_line_color = "black"
        ax.axis_line_width = 3
        ax.major_tick_line_color = "black"
        ax.major_tick_line_width = 3
        ax.major_tick_out = 13
        ax.major_tick_in = 0
        ax.minor_tick_line_color = None
        ax.major_label_standoff = 12
    for pts, a in zip(ALL_LINES[k], ALL_ALPHA[k]):
        xs = [q[0] for q in pts]
        ys = [q[1] for q in pts]
        p.line(xs, ys, line_color="black", line_alpha=a, line_width=LW, line_join="round")
    # cluster name on the right, as the single label of a right-hand axis
    rax = LinearAxis(ticker=FixedTicker(ticks=[LABEL_Y]),
                     major_label_overrides={LABEL_Y: CLUSTER_NAMES[k]})
    rax.axis_line_color = None
    rax.major_tick_line_color = None
    rax.minor_tick_line_color = None
    rax.major_tick_out = 0
    rax.major_tick_in = 0
    rax.major_label_standoff = 5
    rax.major_label_text_font = FONT
    rax.major_label_text_font_size = "30px"
    rax.major_label_text_color = "black"
    p.add_layout(rax, "right")
    if k == 1:
        # title above the second subplot, as the single label of a top axis
        tax = LinearAxis(ticker=FixedTicker(ticks=[200]), major_label_overrides={200: TITLE})
        tax.axis_line_color = None
        tax.major_tick_line_color = None
        tax.minor_tick_line_color = None
        tax.major_tick_out = 0
        tax.major_tick_in = 0
        tax.major_label_standoff = 7
        tax.major_label_text_font = FONT
        tax.major_label_text_font_size = "45px"
        tax.major_label_text_color = "black"
        p.add_layout(tax, "above")
    return p


items = [make_panel(k) for k in range(10)]
layout = column(*items, spacing=0)
open("out.html", "w").write(file_html(layout, INLINE))
